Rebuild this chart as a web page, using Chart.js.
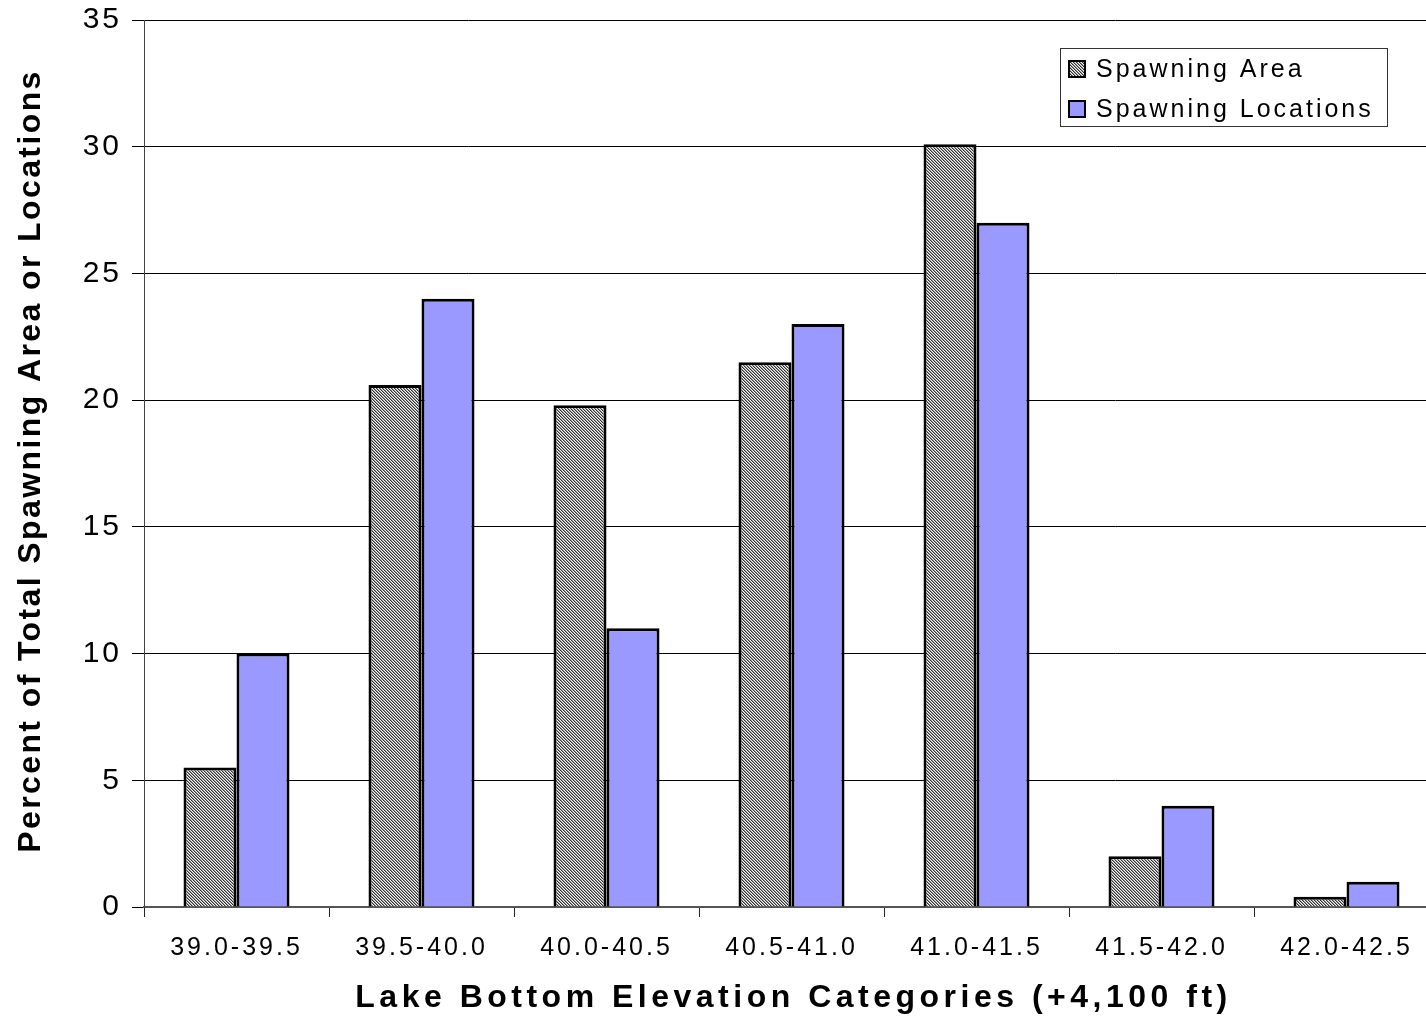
<!DOCTYPE html>
<html>
<head>
<meta charset="utf-8">
<script src="https://cdn.jsdelivr.net/npm/chart.js@4.4.0/dist/chart.umd.min.js"></script>
<style>
  body { margin: 0; background: #fff; overflow: hidden; }
  #wrap { width: 1440px; height: 1019px; }
</style>
</head>
<body>
<div id="wrap"><canvas id="chart" width="1440" height="1019"></canvas></div>
<script>
const categories = ['39.0-39.5', '39.5-40.0', '40.0-40.5', '40.5-41.0', '41.0-41.5', '41.5-42.0', '42.0-42.5'];
const spawningArea = [5.5, 20.6, 19.8, 21.5, 30.1, 2.0, 0.4];
const spawningLocations = [10, 24, 11, 23, 27, 4, 1];
const seriesNames = ['Spawning Area', 'Spawning Locations'];
const xTitle = 'Lake Bottom Elevation Categories (+4,100 ft)';
const yTitle = 'Percent of Total Spawning Area or Locations';

const FONT = '"Liberation Sans", Arial, sans-serif';

const ctx = document.getElementById('chart').getContext('2d');

// fine diagonal hatch like the old excel fill
const hatchTile = document.createElement('canvas');
hatchTile.width = 3; hatchTile.height = 3;
const hg = hatchTile.getContext('2d');
hg.fillStyle = '#f2f2f2';
hg.fillRect(0, 0, 3, 3);
for (let y = 0; y < 3; y++) {
    for (let x = 0; x < 3; x++) {
        const d = (x - y + 6) % 3;
        if (d === 0) { hg.fillStyle = '#333'; hg.fillRect(x, y, 1, 1); }
        else if (d === 1) { hg.fillStyle = '#999'; hg.fillRect(x, y, 1, 1); }
    }
}
const hatch = ctx.createPattern(hatchTile, 'repeat');

const textPlugin = {
    id: 'textStuff',
    beforeDraw(chart) {
        chart.ctx.letterSpacing = '3px';
    },
    afterDraw(chart) {
        const c = chart.ctx;
        const area = chart.chartArea;
        c.save();
        c.fillStyle = '#000';
        c.textAlign = 'center';
        c.textBaseline = 'middle';

        // x axis title
        c.letterSpacing = '4.5px';
        c.font = 'bold 32px ' + FONT;
        c.fillText(xTitle, (area.left + area.right) / 2 + 2, 998);

        // y axis title
        c.save();
        c.translate(31, 461);
        c.rotate(-Math.PI / 2);
        c.letterSpacing = '2.4px';
        c.font = 'bold 32px ' + FONT;
        c.fillText(yTitle, 0, 0);
        c.restore();

        // legend box
        const lx = 1060, ly = 48, lw = 327, lh = 78;
        c.fillStyle = '#fff';
        c.fillRect(lx, ly, lw, lh);
        c.strokeStyle = '#333';
        c.lineWidth = 1;
        c.strokeRect(lx + 0.5, ly + 0.5, lw, lh);
        c.letterSpacing = '3px';
        c.font = '25px ' + FONT;
        c.textAlign = 'left';
        chart.data.datasets.forEach((ds, i) => {
            const cy = ly + 21 + i * 40;
            c.fillStyle = ds.backgroundColor;
            c.fillRect(lx + 9, cy - 8, 16, 16);
            c.strokeStyle = '#000';
            c.lineWidth = 2;
            c.strokeRect(lx + 9, cy - 8, 16, 16);
            c.fillStyle = '#000';
            c.fillText(ds.label, lx + 36, cy + 1);
        });
        c.restore();
    }
};

new Chart(ctx, {
    type: 'bar',
    data: {
        labels: categories,
        datasets: [{
            label: seriesNames[0],
            data: spawningArea,
            backgroundColor: hatch,
            borderColor: '#000',
            borderWidth: 3
        }, {
            label: seriesNames[1],
            data: spawningLocations,
            backgroundColor: '#9999ff',
            borderColor: '#000',
            borderWidth: 3
        }]
    },
    options: {
        responsive: false,
        animation: false,
        layout: { padding: { top: 20, right: 1, left: 0, bottom: 0 } },
        plugins: {
            legend: { display: false },
            tooltip: { enabled: false }
        },
        datasets: {
            bar: { categoryPercentage: 0.573, barPercentage: 1 }
        },
        scales: {
            x: {
                grid: { drawOnChartArea: false, drawTicks: true, tickLength: 10, color: '#222', offset: true },
                border: { color: '#555', width: 2 },
                ticks: { color: '#000', font: { family: FONT, size: 25 }, padding: 16, maxRotation: 0 },
                afterFit(scale) { scale.height = 112; }
            },
            y: {
                min: 0,
                max: 35,
                ticks: { stepSize: 5, color: '#000', font: { family: FONT, size: 30 }, padding: 10 },
                grid: { color: '#000', lineWidth: 1, tickLength: 12 },
                border: { color: '#444', width: 1 },
                afterFit(scale) {
                    scale.width = 144;
                    scale.paddingTop = 0;
                    scale.paddingBottom = 0;
                }
            }
        }
    },
    plugins: [textPlugin]
});
</script>
</body>
</html>
